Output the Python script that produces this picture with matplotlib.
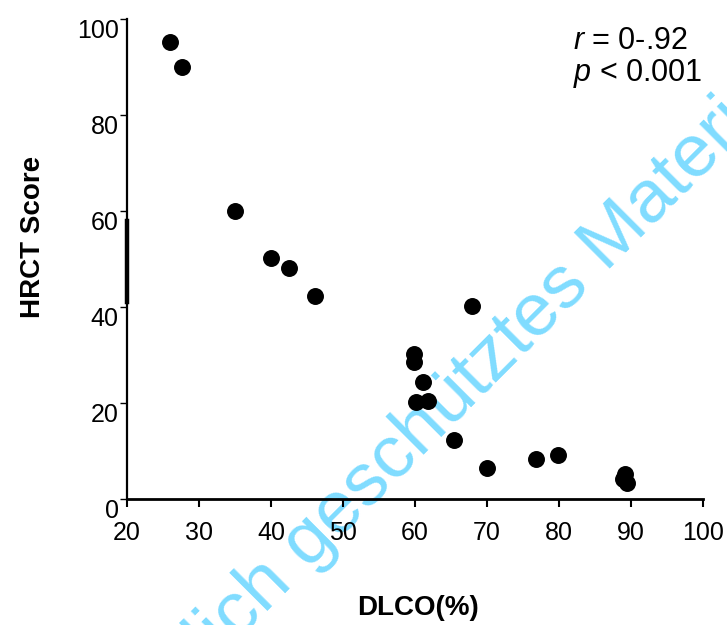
import matplotlib
matplotlib.use("Agg")
from matplotlib import pyplot as plt
from matplotlib import transforms

plt.rcParams['font.family'] = ['Liberation Sans', 'DejaVu Sans']
plt.rcParams['mathtext.fontset'] = 'custom'
plt.rcParams['mathtext.rm'] = 'Liberation Sans'
plt.rcParams['mathtext.it'] = 'Liberation Sans:italic'

# DLCO (%) vs HRCT score
dlco = [26.0, 27.6, 35.0, 40.0, 42.5, 46.1, 67.9, 59.9, 59.9, 61.1,
        60.1, 61.8, 65.4, 70.0, 76.8, 79.9, 89.2, 88.9, 89.4]
hrct = [95.2, 90.0, 60.0, 50.2, 48.1, 42.3, 40.2, 30.2, 28.5, 24.4,
        20.2, 20.4, 12.3, 6.5, 8.3, 9.2, 5.2, 4.2, 3.3]

x_ticks = [20, 30, 40, 50, 60, 70, 80, 90, 100]
y_ticks = [0, 20, 40, 60, 80, 100]

fig = plt.figure(figsize=(7.27, 6.25), dpi=100)
ax = fig.add_axes([0.1747, 0.2016, 0.7923, 0.768])
ax.patch.set_alpha(0)

ax.scatter(dlco, hrct, s=125, color="black", zorder=3, clip_on=False)

ax.set_xlim(20, 100)
ax.set_ylim(0, 100)
ax.set_xticks(x_ticks)
ax.set_yticks(y_ticks)

for side in ["top", "right"]:
    ax.spines[side].set_visible(False)
ax.spines["left"].set_linewidth(1.6)
ax.spines["bottom"].set_linewidth(2.0)
# 左軸の太い部分（元図のかすれ）
ax.plot([20, 20], [41, 58], color="black", lw=3.2, clip_on=False, zorder=4)

ax.tick_params(axis="x", direction="out", length=6, width=1.5, labelsize=18, pad=10)
ax.tick_params(axis="y", direction="out", length=5, width=1.0, labelsize=18, pad=1)

# yラベルは目盛りより少し下に表示
offset = transforms.ScaledTranslation(0, -9 / 100, fig.dpi_scale_trans)
for label in ax.get_yticklabels():
    label.set_transform(label.get_transform() + offset)

ax.set_xlabel("DLCO(%)", fontsize=20, fontweight="bold")
ax.xaxis.set_label_coords(0.505, -0.2)
ax.set_ylabel("HRCT Score", fontsize=20, fontweight="bold")
ax.yaxis.set_label_coords(-0.14, 0.545)

ax.text(82.0, 98.5, "$r$ = 0-.92\n$p$ < 0.001", fontsize=22, va="top", ha="left",
        linespacing=1.05)

# 透かし（マーカーの下に描く）
fig.text(0.295, -0.063, "lich geschütztes Material", fontsize=54, color="#80dcff",
         rotation=45, rotation_mode="anchor", ha="left", va="baseline", zorder=-1)

fig.savefig("out.png", dpi=100)
